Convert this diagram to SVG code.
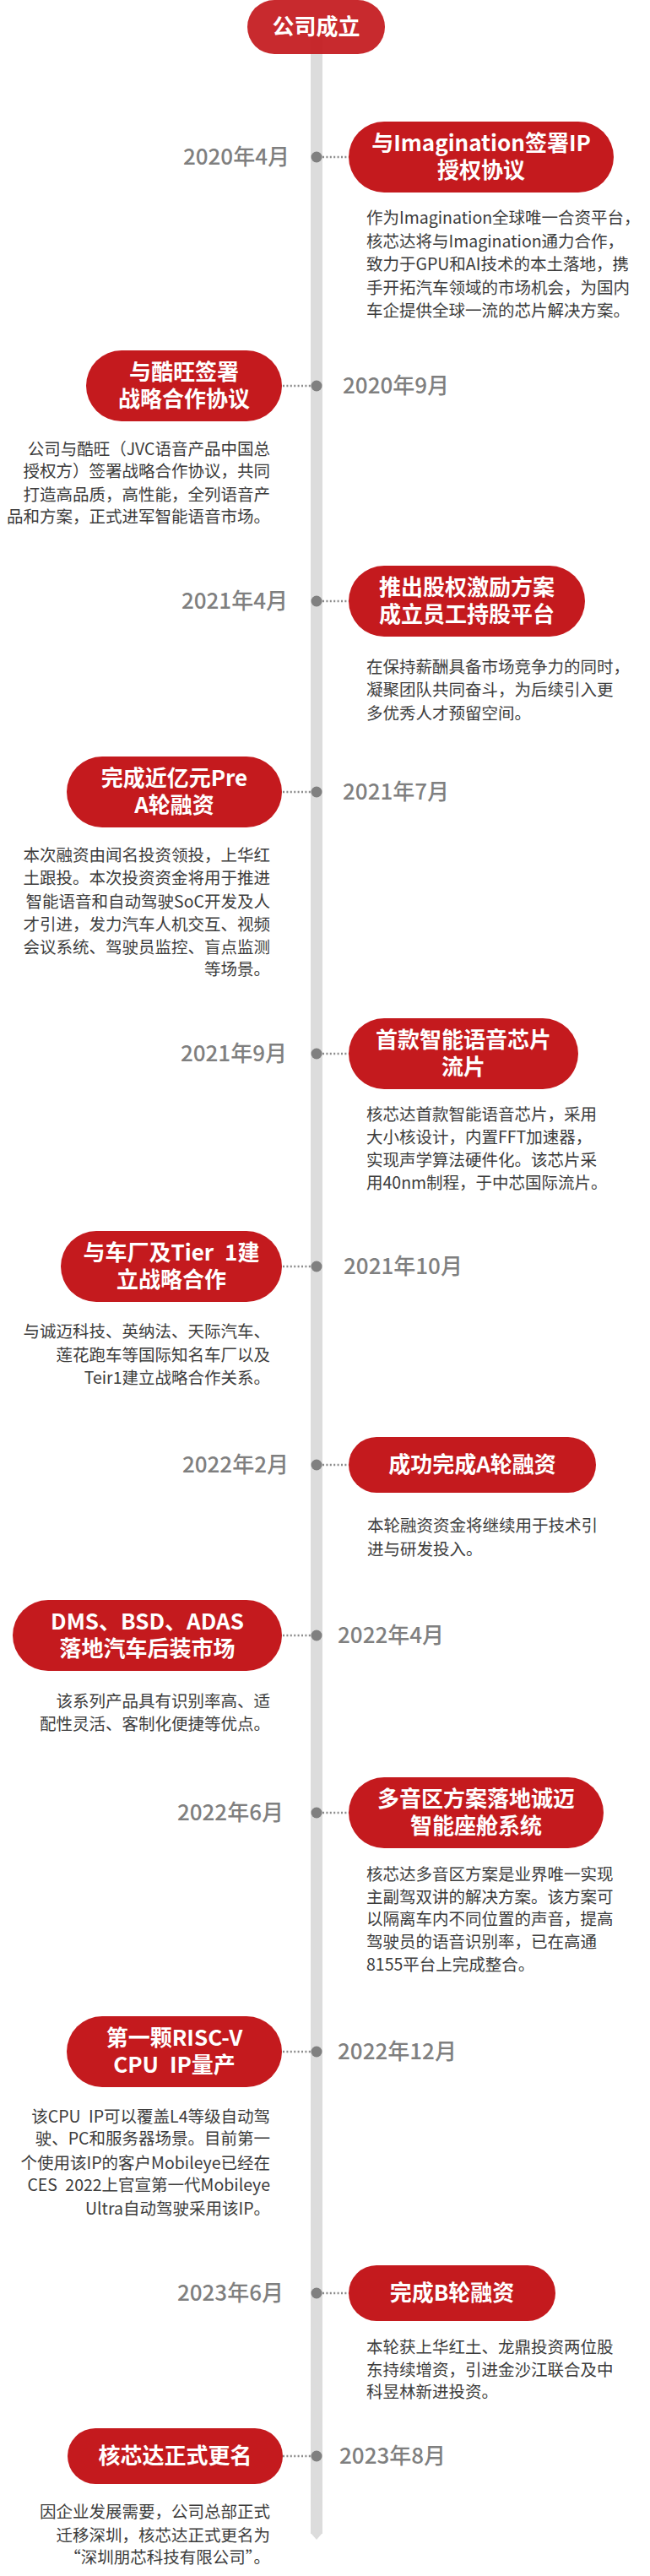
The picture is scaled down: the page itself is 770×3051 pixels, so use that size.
<svg xmlns="http://www.w3.org/2000/svg" width="770" height="3051" viewBox="0 0 770 3051">
<style>
.pill{fill:#c41a1e}
.t{font-family:"Noto Sans CJK SC","Liberation Sans",sans-serif;font-size:26px;font-weight:bold;fill:#ffffff;text-anchor:middle}
.d{font-family:"Noto Sans CJK SC","Liberation Sans",sans-serif;font-size:26px;font-weight:500;fill:#7f7f7f}
.ds{font-family:"Noto Sans CJK SC","Liberation Sans",sans-serif;font-size:19.5px;fill:#3c3c3c}
.l{text-anchor:end}
.dot{fill:#808080}
.dl{stroke:#8c8c8c;stroke-width:2.4;stroke-dasharray:2 2.4;fill:none}
</style>
<rect width="770" height="3051" fill="#ffffff"/>
<g id="connectors">
  <rect x="368" y="43" width="14" height="2958" fill="#dcdcdc"/>
  <polygon points="368,3000 382,3000 375,3008" fill="#dcdcdc"/>
  <line class="dl" x1="382" y1="186" x2="413" y2="186"/>
  <line class="dl" x1="335" y1="457" x2="368" y2="457"/>
  <line class="dl" x1="382" y1="712" x2="413" y2="712"/>
  <line class="dl" x1="335" y1="938" x2="368" y2="938"/>
  <line class="dl" x1="382" y1="1248" x2="413" y2="1248"/>
  <line class="dl" x1="335" y1="1500" x2="368" y2="1500"/>
  <line class="dl" x1="382" y1="1735" x2="413" y2="1735"/>
  <line class="dl" x1="335" y1="1937" x2="368" y2="1937"/>
  <line class="dl" x1="382" y1="2147" x2="413" y2="2147"/>
  <line class="dl" x1="335" y1="2430" x2="368" y2="2430"/>
  <line class="dl" x1="382" y1="2716" x2="413" y2="2716"/>
  <line class="dl" x1="335" y1="2909" x2="368" y2="2909"/>
  <circle class="dot" cx="375" cy="186" r="6.5"/>
  <circle class="dot" cx="375" cy="457" r="6.5"/>
  <circle class="dot" cx="375" cy="712" r="6.5"/>
  <circle class="dot" cx="375" cy="938" r="6.5"/>
  <circle class="dot" cx="375" cy="1248" r="6.5"/>
  <circle class="dot" cx="375" cy="1500" r="6.5"/>
  <circle class="dot" cx="375" cy="1735" r="6.5"/>
  <circle class="dot" cx="375" cy="1937" r="6.5"/>
  <circle class="dot" cx="375" cy="2147" r="6.5"/>
  <circle class="dot" cx="375" cy="2430" r="6.5"/>
  <circle class="dot" cx="375" cy="2716" r="6.5"/>
  <circle class="dot" cx="375" cy="2909" r="6.5"/>
</g>
<g id="start">
  <rect class="pill" x="293" y="0" width="163" height="64" rx="32" fill-opacity="0.93"/>
  <text class="t" x="374.5" y="41">公司成立</text>
</g>
<g id="e2020-04">
  <text class="d l" x="343" y="195">2020年4月</text>
  <rect class="pill" x="413" y="144" width="314" height="84" rx="42"/>
  <text class="t" x="570" y="179">与Imagination签署IP</text>
  <text class="t" x="570" y="211">授权协议</text>
  <text class="ds" x="434" y="265">作为Imagination全球唯一合资平台，</text>
  <text class="ds" x="434" y="293">核芯达将与Imagination通力合作，</text>
  <text class="ds" x="434" y="320">致力于GPU和AI技术的本土落地，携</text>
  <text class="ds" x="434" y="348">手开拓汽车领域的市场机会，为国内</text>
  <text class="ds" x="434" y="375">车企提供全球一流的芯片解决方案。</text>
</g>
<g id="e2020-09">
  <text class="d" x="406" y="466">2020年9月</text>
  <rect class="pill" x="102" y="415" width="232" height="84" rx="42"/>
  <text class="t" x="218" y="450">与酷旺签署</text>
  <text class="t" x="218" y="482">战略合作协议</text>
  <text class="ds l" x="320" y="539">公司与酷旺（JVC语音产品中国总</text>
  <text class="ds l" x="320" y="565">授权方）签署战略合作协议，共同</text>
  <text class="ds l" x="320" y="593">打造高品质，高性能，全列语音产</text>
  <text class="ds l" x="320" y="619">品和方案，正式进军智能语音市场。</text>
</g>
<g id="e2021-04">
  <text class="d l" x="341" y="721">2021年4月</text>
  <rect class="pill" x="413" y="670" width="280" height="84" rx="42"/>
  <text class="t" x="553" y="705">推出股权激励方案</text>
  <text class="t" x="553" y="737">成立员工持股平台</text>
  <text class="ds" x="434" y="797">在保持薪酬具备市场竞争力的同时，</text>
  <text class="ds" x="434" y="824">凝聚团队共同奋斗，为后续引入更</text>
  <text class="ds" x="434" y="852">多优秀人才预留空间。</text>
</g>
<g id="e2021-07">
  <text class="d" x="406" y="947">2021年7月</text>
  <rect class="pill" x="79" y="896" width="255" height="84" rx="42"/>
  <text class="t" x="206.5" y="931">完成近亿元Pre</text>
  <text class="t" x="206.5" y="963">A轮融资</text>
  <text class="ds l" x="320" y="1020">本次融资由闻名投资领投，上华红</text>
  <text class="ds l" x="320" y="1047">土跟投。本次投资资金将用于推进</text>
  <text class="ds l" x="320" y="1075">智能语音和自动驾驶SoC开发及人</text>
  <text class="ds l" x="320" y="1102">才引进，发力汽车人机交互、视频</text>
  <text class="ds l" x="320" y="1129">会议系统、驾驶员监控、盲点监测</text>
  <text class="ds l" x="320" y="1155">等场景。</text>
</g>
<g id="e2021-09">
  <text class="d l" x="340" y="1257">2021年9月</text>
  <rect class="pill" x="413" y="1206" width="272" height="84" rx="42"/>
  <text class="t" x="549" y="1241">首款智能语音芯片</text>
  <text class="t" x="549" y="1273">流片</text>
  <text class="ds" x="434" y="1327">核芯达首款智能语音芯片，采用</text>
  <text class="ds" x="434" y="1354">大小核设计，内置FFT加速器，</text>
  <text class="ds" x="434" y="1381">实现声学算法硬件化。该芯片采</text>
  <text class="ds" x="434" y="1408">用40nm制程，于中芯国际流片。</text>
</g>
<g id="e2021-10">
  <text class="d" x="407" y="1509">2021年10月</text>
  <rect class="pill" x="72" y="1458" width="262" height="84" rx="42"/>
  <text class="t" x="203" y="1493">与车厂及Tier <tspan dx="7">1建</tspan></text>
  <text class="t" x="203" y="1525">立战略合作</text>
  <text class="ds l" x="320" y="1584">与诚迈科技、英纳法、天际汽车、</text>
  <text class="ds l" x="320" y="1612">莲花跑车等国际知名车厂以及</text>
  <text class="ds l" x="320" y="1639">Teir1建立战略合作关系。</text>
</g>
<g id="e2022-02">
  <text class="d l" x="342" y="1744">2022年2月</text>
  <rect class="pill" x="413" y="1702" width="293" height="66" rx="33"/>
  <text class="t" x="559.5" y="1744">成功完成A轮融资</text>
  <text class="ds" x="435" y="1814">本轮融资资金将继续用于技术引</text>
  <text class="ds" x="435" y="1842">进与研发投入。</text>
</g>
<g id="e2022-04">
  <text class="d" x="400" y="1946">2022年4月</text>
  <rect class="pill" x="15" y="1895" width="319" height="84" rx="42"/>
  <text class="t" x="174.5" y="1930">DMS、BSD、ADAS</text>
  <text class="t" x="174.5" y="1962">落地汽车后装市场</text>
  <text class="ds l" x="320" y="2022">该系列产品具有识别率高、适</text>
  <text class="ds l" x="320" y="2049">配性灵活、客制化便捷等优点。</text>
</g>
<g id="e2022-06">
  <text class="d l" x="336" y="2156">2022年6月</text>
  <rect class="pill" x="413" y="2105" width="302" height="84" rx="42"/>
  <text class="t" x="564" y="2140">多音区方案落地诚迈</text>
  <text class="t" x="564" y="2172">智能座舱系统</text>
  <text class="ds" x="434" y="2227">核芯达多音区方案是业界唯一实现</text>
  <text class="ds" x="434" y="2254">主副驾双讲的解决方案。该方案可</text>
  <text class="ds" x="434" y="2280">以隔离车内不同位置的声音，提高</text>
  <text class="ds" x="434" y="2307">驾驶员的语音识别率，已在高通</text>
  <text class="ds" x="434" y="2334">8155平台上完成整合。</text>
</g>
<g id="e2022-12">
  <text class="d" x="400" y="2439">2022年12月</text>
  <rect class="pill" x="79" y="2388" width="255" height="84" rx="42"/>
  <text class="t" x="206.5" y="2423">第一颗RISC-V</text>
  <text class="t" x="206.5" y="2455">CPU <tspan dx="7">IP量产</tspan></text>
  <text class="ds l" x="320" y="2514">该CPU <tspan dx="5">IP可以覆盖L4等级自动驾</tspan></text>
  <text class="ds l" x="320" y="2540">驶、PC和服务器场景。目前第一</text>
  <text class="ds l" x="320" y="2569">个使用该IP的客户Mobileye已经在</text>
  <text class="ds l" x="320" y="2595">CES <tspan dx="5">2022上官宣第一代Mobileye</tspan></text>
  <text class="ds l" x="320" y="2623">Ultra自动驾驶采用该IP。</text>
</g>
<g id="e2023-06">
  <text class="d l" x="336" y="2725">2023年6月</text>
  <rect class="pill" x="413" y="2683" width="245" height="66" rx="33"/>
  <text class="t" x="535.5" y="2725">完成B轮融资</text>
  <text class="ds" x="434" y="2787">本轮获上华红土、龙鼎投资两位股</text>
  <text class="ds" x="434" y="2814">东持续增资，引进金沙江联合及中</text>
  <text class="ds" x="434" y="2840">科昱林新进投资。</text>
</g>
<g id="e2023-08">
  <text class="d" x="402" y="2918">2023年8月</text>
  <rect class="pill" x="80" y="2876" width="255" height="66" rx="33"/>
  <text class="t" x="207.5" y="2918">核芯达正式更名</text>
  <text class="ds l" x="320" y="2982">因企业发展需要，公司总部正式</text>
  <text class="ds l" x="320" y="3010">迁移深圳，核芯达正式更名为</text>
  <text class="ds l" x="320" y="3036">“深圳朋芯科技有限公司”。</text>
</g>
</svg>
